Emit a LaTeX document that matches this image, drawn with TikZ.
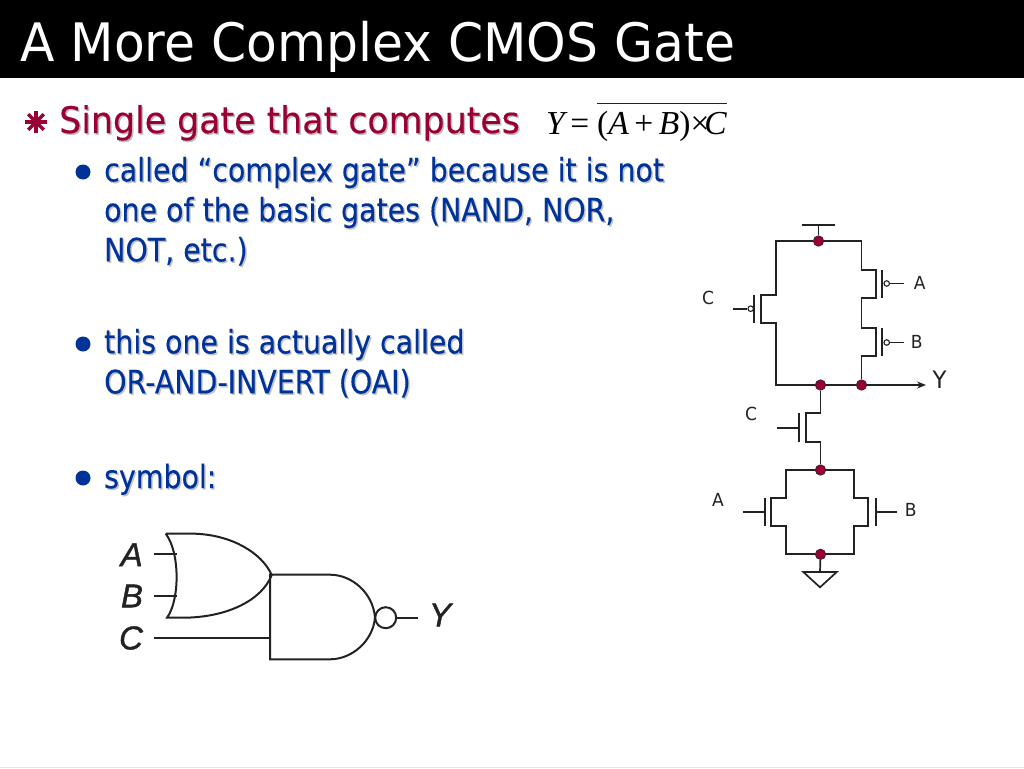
\documentclass[tikz,border=0pt]{standalone}
\usepackage{fontspec}
\usepackage{xcolor}
\setmainfont[FakeStretch=0.95]{DejaVu Sans}
\newfontfamily\subfont[FakeStretch=0.88,FakeBold=0.25]{DejaVu Sans}
\newfontfamily\headfont[FakeStretch=0.95,FakeBold=0.25]{DejaVu Sans}
\newfontfamily\formfont{Liberation Serif}
\newfontfamily\gatefont[ItalicFeatures={FakeBold=1.2}]{Liberation Sans}
\definecolor{slidered}{HTML}{990033}
\definecolor{slideblue}{HTML}{003399}
\definecolor{redshade}{HTML}{BDBDBD}
\definecolor{blueshade}{HTML}{C4C4C4}
\definecolor{wirecol}{HTML}{222222}
\newcommand{\shaded}[3]{\rlap{\raisebox{-1.5pt}{\hspace{1.5pt}\textcolor{#2}{#3}}}\textcolor{#1}{#3}}
\usetikzlibrary{arrows.meta,positioning,calc}
\begin{document}
\begin{tikzpicture}[
    x=1pt, y=-1pt,
    title/.style={anchor=base west, inner sep=0pt, text=white, font=\fontsize{53}{53}\selectfont},
    mainitem/.style={anchor=base west, inner sep=0pt, font=\headfont\fontsize{36.6}{40}\selectfont},
    subitem/.style={anchor=west, inner sep=0pt, align=left, font=\subfont\fontsize{32.3}{40}\selectfont},
    bulletdot/.style={circle, fill=slideblue, inner sep=0pt, minimum size=15pt},
    formula/.style={anchor=base west, inner sep=0pt, font=\formfont\fontsize{33.5}{33.5}\selectfont},
    wire/.style={draw=wirecol, line width=1.7pt},
    junction/.style={circle, draw=wirecol, fill=slidered, line width=0.6pt, inner sep=0pt, minimum size=10.5pt},
    bubble/.style={circle, draw=wirecol, fill=white, line width=1.1pt, inner sep=0pt, minimum size=5.5pt},
    pinlabel/.style={inner sep=0pt, text=wirecol, font=\fontsize{18}{18}\selectfont},
    gateline/.style={draw=wirecol, line width=2pt},
    gatelabel/.style={inner sep=0pt, text=wirecol, font=\gatefont\itshape\fontsize{33}{33}\selectfont}
]
    \useasboundingbox (0,0) rectangle (1024,768);
    \fill[black] (0,0) rectangle (1024,78);
    \draw[black!10, line width=1pt] (0,767.5) -- (1024,767.5);
    \node[title] (slidetitle) at (20,62) {A More Complex CMOS Gate};

    % text on the left
    \foreach \ang in {0,45,90,135}
        \draw[slidered, line width=3.5pt] (36,122) ++(\ang:11) -- ++(\ang+180:22);
    \node[mainitem] (topitem) at (59,133) {\shaded{slidered}{redshade}{Single gate that computes}};
    \node[bulletdot] (dot1) at (83,172) {};
    \node[subitem] (item1) at (104,212) {\shaded{slideblue}{blueshade}{called “complex gate” because it is not}\\
        \shaded{slideblue}{blueshade}{one of the basic gates (NAND, NOR,}\\
        \shaded{slideblue}{blueshade}{NOT, etc.)}};
    \node[bulletdot] (dot2) at (83,344) {};
    \node[subitem] (item2) at (104,364) {\shaded{slideblue}{blueshade}{this one is actually called}\\
        \shaded{slideblue}{blueshade}{OR-AND-INVERT (OAI)}};
    \node[bulletdot] (dot3) at (83,478) {};
    \node[subitem] (item3) at (104,480) {\shaded{slideblue}{blueshade}{symbol:}};

    % formula
    \node[formula] (formY) at (546,134) {\itshape Y\,\upshape =};
    \node[formula] (formExpr) at (597,134) {(\itshape A\,\upshape+\,\itshape B\upshape)×\kern-5pt\itshape C};
    \draw[wirecol, line width=1.2pt] (597,103.5) -- (727,103.5);

    % pull-up
    \node[junction] (vddDot) at (818.5,241) {};
    \node[junction] (outDot) at (820.5,385) {};
    \node[junction] (yDot) at (861.5,385) {};
    \coordinate (vddTop) at (818.5,225);
    \coordinate (yEnd) at (926,385);
    \draw[wire] (801.7,225) -- (835,225);
    \draw[wire] (vddTop) -- (vddDot);
    \draw[wire] (vddDot) -- (776,241) -- (776,295) -- (761,295) -- (761,323.3) -- (776,323.3) -- (776,385) -- (outDot);
    \draw[wire] (vddDot) -- (861.5,241) -- (861.5,270) -- (875.7,270) -- (875.7,297.7) -- (861.5,297.7)
        -- (861.5,328.3) -- (875.7,328.3) -- (875.7,356.3) -- (861.5,356.3) -- (yDot);
    \draw[wire] (outDot) -- (yDot);
    \draw[wire, -{Stealth[length=9pt,width=7pt]}] (yDot) -- (yEnd);
    % gates of the pull-up
    \draw[wire] (754,295) -- (754,323.3);
    \draw[wire] (882.3,270) -- (882.3,297.7);
    \draw[wire] (882.3,328.3) -- (882.3,356.3);
    \node[bubble] (bubC) at (750.7,308.7) {};
    \node[bubble] (bubA) at (886.7,283.5) {};
    \node[bubble] (bubB) at (886.7,342.5) {};
    \coordinate (inC) at (733.3,308.7);
    \coordinate (inA) at (904,283.5);
    \coordinate (inB) at (904,342.5);
    \draw[wire] (inC) -- (bubC);
    \draw[wire] (bubA) -- (inA);
    \draw[wire] (bubB) -- (inB);

    % pull-down
    \node[junction] (midDot) at (820.5,470) {};
    \node[junction] (gndDot) at (820.5,554.3) {};
    \coordinate (gndTop) at (820,572);
    \draw[wire] (outDot) -- (820.5,413.3) -- (805.7,413.3) -- (805.7,441.7) -- (820.5,441.7) -- (midDot);
    \draw[wire] (midDot) -- (786,470) -- (786,497.7) -- (771.3,497.7) -- (771.3,526) -- (786,526) -- (786,554.3) -- (gndDot);
    \draw[wire] (midDot) -- (854.3,470) -- (854.3,497.7) -- (868.3,497.7) -- (868.3,526) -- (854.3,526) -- (854.3,554.3) -- (gndDot);
    \draw[wire] (799,413.3) -- (799,441.7);
    \draw[wire] (777.3,427.7) -- (799,427.7);
    \draw[wire] (764.7,497.7) -- (764.7,526);
    \draw[wire] (743.3,512.3) -- (764.7,512.3);
    \draw[wire] (875.7,497.7) -- (875.7,526);
    \draw[wire] (875.7,512.3) -- (897.3,512.3);
    \draw[wire] (gndDot) -- (gndTop);
    \draw[wire] (803.3,572) -- (836.7,572) -- (820,587.3) -- cycle;

    \node[pinlabel] (labA) at (919.7,283) {A};
    \node[pinlabel] (labB) at (916.7,342) {B};
    \node[pinlabel] (labC) at (708,298) {C};
    \node[pinlabel, font=\fontsize{24}{24}\selectfont] (labY) at (939.5,380) {Y};
    \node[pinlabel] (labC2) at (751,414) {C};
    \node[pinlabel] (labA2) at (718,500) {A};
    \node[pinlabel] (labB2) at (910.7,510) {B};

    % gate symbol
    \draw[gateline] (165.7,533.7) -- (195,533.7) .. controls (232,535) and (262,553) .. (271.7,575)
        .. controls (262,600) and (228,617) .. (185,617.7) -- (167,617.7)
        .. controls (180,600) and (180,552) .. (165.7,533.7);
    \draw[gateline] (270,574.7) -- (330,574.7) .. controls (352,574.7) and (373,593) .. (375,617.5)
        .. controls (373,641) and (352,659.3) .. (330,659.3) -- (270,659.3) -- cycle;
    \node[circle, draw=wirecol, line width=2pt, inner sep=0pt, minimum size=21pt] (invBub) at (385.7,617.7) {};
    \node[gatelabel] (gA) at (131.7,554.7) {A};
    \node[gatelabel] (gB) at (132,596) {B};
    \node[gatelabel] (gC) at (131,638) {C};
    \node[gatelabel] (gY) at (440,615) {Y};
    \coordinate (inGA) at (154,554);
    \coordinate (inGB) at (154,596.3);
    \coordinate (inGC) at (154,638);
    \coordinate (outG) at (418,617.7);
    \draw[gateline] (inGA) -- (176.7,554);
    \draw[gateline] (inGB) -- (176.7,596.3);
    \draw[gateline] (inGC) -- (270,638);
    \draw[gateline] (invBub) -- (outG);
\end{tikzpicture}
\end{document}
